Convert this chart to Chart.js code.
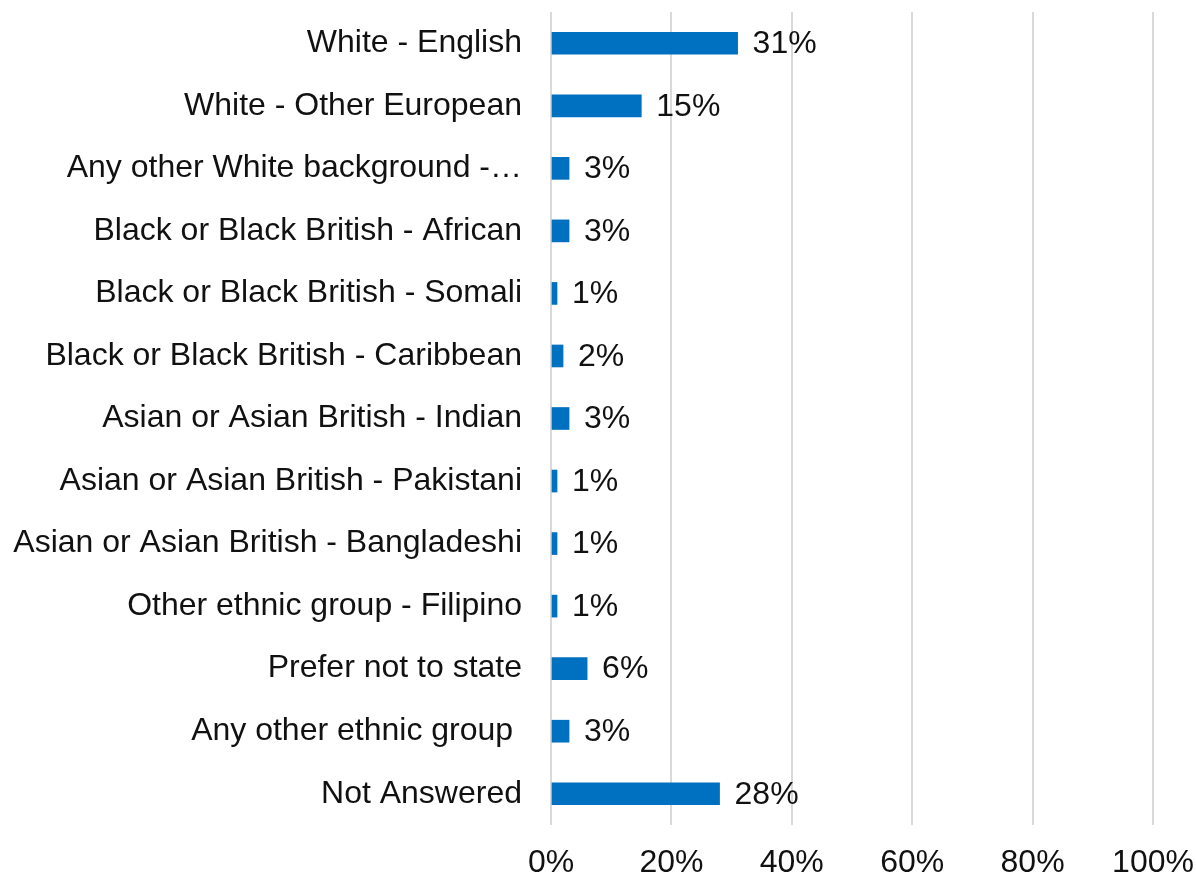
<!DOCTYPE html>
<html lang="en">
<head>
  <meta charset="UTF-8">
  <title>Ethnicity of respondents</title>
  <script src="https://cdn.jsdelivr.net/npm/chart.js"></script>
  <style>
    html, body {
      margin: 0;
      padding: 0;
      background: #fff;
    }

    #wrap {
      width: 1196px;
      height: 875px;
    }
  </style>
</head>
<body>
  <div id="wrap">
    <canvas id="ethnicityChart" width="1196" height="875"></canvas>
  </div>
  <script>
    const categories = [
      "White - English",
      "White - Other European",
      "Any other White background -\u2026",
      "Black or Black British - African",
      "Black or Black British - Somali",
      "Black or Black British - Caribbean",
      "Asian or Asian British - Indian",
      "Asian or Asian British - Pakistani",
      "Asian or Asian British - Bangladeshi",
      "Other ethnic group - Filipino",
      "Prefer not to state",
      "Any other ethnic group ",
      "Not Answered"
    ];
    const percentages = [31, 15, 3, 3, 1, 2, 3, 1, 1, 1, 6, 3, 28];
    const xTicks = [0, 20, 40, 60, 80, 100];

    const font = "'Liberation Sans', Arial, sans-serif";

    // value labels drawn just past the end of each bar
    const barLabels = {
      id: "barLabels",
      afterDatasetsDraw(chart) {
        const ctx = chart.ctx;
        const meta = chart.getDatasetMeta(0);
        ctx.save();
        ctx.font = "32px " + font;
        ctx.fillStyle = "#111";
        ctx.textAlign = "left";
        ctx.textBaseline = "middle";
        meta.data.forEach((bar, i) => {
          ctx.fillText(percentages[i] + "%", bar.x + 15, bar.y + 1);
        });
        ctx.restore();
      }
    };

    new Chart(document.getElementById("ethnicityChart"), {
      type: "bar",
      data: {
        labels: categories,
        datasets: [{
          data: percentages,
          backgroundColor: "#0070C0",
          borderWidth: 0,
          barThickness: 22
        }]
      },
      options: {
        indexAxis: "y",
        responsive: false,
        animation: false,
        layout: {
          padding: { top: 12, right: 43, bottom: 0, left: 0 }
        },
        plugins: {
          legend: { display: false },
          tooltip: { enabled: false }
        },
        scales: {
          x: {
            min: 0,
            max: 100,
            afterBuildTicks(scale) {
              scale.ticks = xTicks.map(v => ({ value: v }));
            },
            afterFit(scale) {
              scale.height = 50;
              scale.paddingLeft = 0;
              scale.paddingRight = 0;
            },
            grid: {
              color: "#d9d9d9",
              lineWidth: 2,
              drawTicks: false
            },
            border: { display: false },
            ticks: {
              padding: 19,
              maxRotation: 0,
              color: "#111",
              font: { family: font, size: 32 },
              callback: v => v + "%"
            }
          },
          y: {
            afterFit(scale) {
              scale.width = 551;
              scale.paddingTop = 0;
              scale.paddingBottom = 0;
            },
            grid: { display: false, drawTicks: false },
            border: { display: false },
            ticks: {
              padding: 29,
              autoSkip: false,
              color: "#111",
              font: { family: font, size: 32 }
            }
          }
        }
      },
      plugins: [barLabels]
    });
  </script>
</body>
</html>
